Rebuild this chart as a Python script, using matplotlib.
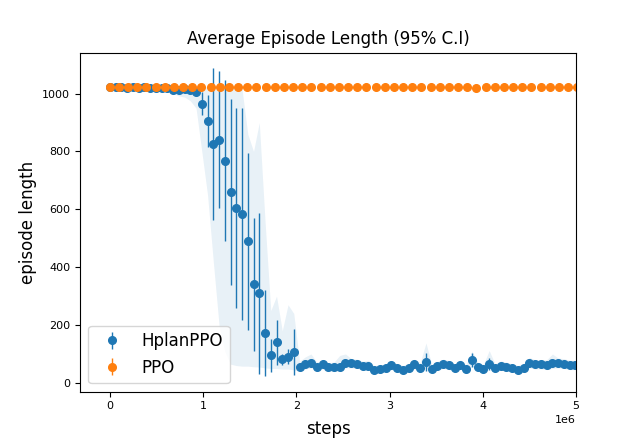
import numpy as np
import matplotlib
matplotlib.use("Agg")
import matplotlib.pyplot as plt

# logging interval of each run (env steps between evaluations)
hplan_interval = 61650
ppo_interval = 98304

hplan_mean = [
    1023, 1022, 1023, 1021, 1022, 1020, 1022, 1021, 1019, 1020, 1018,
    1011, 1014, 1016, 1011, 1006, 965, 905, 826, 840, 768, 660, 604,
    584, 490, 341, 310, 172, 95, 141, 81, 91, 107,
    54, 64, 70, 56, 64, 54, 54, 54, 68, 68, 66, 59, 60, 45, 47, 51,
    62, 51, 45, 53, 64, 51, 72, 48, 59, 66, 62, 51, 62, 48, 80, 56,
    48, 66, 51, 59, 56, 51, 45, 51, 70, 64, 64, 62, 68, 68, 66, 62, 62,
]
hplan_ci = [
    3, 3, 3, 3, 3, 3, 3, 3, 3, 3, 3,
    5, 6, 6, 8, 15, 40, 90, 262, 237, 278, 322, 346,
    366, 306, 229, 278, 148, 58, 78, 20, 25, 78,
    8, 10, 6, 6, 6, 6, 6, 6, 8, 6, 6, 6, 6, 6, 6, 6,
    6, 6, 6, 6, 6, 6, 30, 6, 6, 6, 6, 6, 6, 6, 24, 6,
    6, 20, 6, 6, 6, 6, 6, 6, 8, 6, 6, 6, 8, 6, 6, 6, 6,
]
hplan_band_lo = [
    1019, 1018, 1019, 1017, 1018, 1016, 1018, 1017, 1015, 1016, 1013,
    1000, 992, 988, 975, 950, 800, 650, 420, 200, 110, 65, 60,
    58, 58, 56, 55, 52, 50, 50, 48, 48, 45,
    40, 48, 52, 42, 48, 40, 40, 40, 52, 52, 50, 44, 45, 32, 34, 38,
    46, 38, 32, 40, 48, 38, 52, 35, 44, 50, 46, 38, 46, 35, 58, 42,
    35, 48, 38, 44, 42, 38, 32, 38, 52, 48, 48, 46, 50, 52, 50, 46, 46,
]
hplan_band_hi = [
    1024, 1024, 1024, 1024, 1024, 1024, 1024, 1024, 1024, 1024, 1024,
    1024, 1024, 1024, 1024, 1024, 1024, 1024, 1024, 1024, 1024, 1024, 1022,
    1015, 860, 800, 900, 560, 250, 300, 180, 270, 240,
    75, 90, 100, 72, 80, 70, 72, 95, 100, 84, 82, 75, 78, 60, 62, 66,
    78, 66, 60, 68, 82, 70, 138, 64, 75, 82, 78, 66, 80, 64, 110, 72,
    64, 112, 66, 76, 72, 66, 60, 68, 88, 80, 80, 80, 100, 86, 84, 78, 78,
]

ppo_mean = [
    1024, 1024, 1024, 1024, 1024, 1024, 1024, 1024, 1024, 1024,
    1024, 1024, 1024, 1024, 1024, 1024, 1024, 1024, 1024, 1024,
    1024, 1024, 1024, 1024, 1024, 1024, 1024, 1024, 1024, 1024,
    1024, 1024, 1024, 1024, 1024, 1024, 1024, 1024, 1024, 1024,
    1021, 1024, 1024, 1024, 1024, 1024, 1024, 1024, 1024, 1024,
    1024, 1024,
]
ppo_ci = [0] * len(ppo_mean)

hplan_steps = np.arange(len(hplan_mean)) * hplan_interval
ppo_steps = np.arange(len(ppo_mean)) * ppo_interval

fig, ax = plt.subplots(figsize=(6.4, 4.4), dpi=100)

ax.fill_between(hplan_steps, hplan_band_lo, hplan_band_hi, color="C0", alpha=0.1, linewidth=0)
ax.errorbar(hplan_steps, hplan_mean, yerr=hplan_ci, fmt="o", color="C0",
            elinewidth=1.0, markersize=5.5, label="HplanPPO")
ax.errorbar(ppo_steps, ppo_mean, yerr=ppo_ci, fmt="o", color="C1",
            elinewidth=1.0, markersize=5.5, label="PPO")

ax.set_xlim(-0.32e6, 5e6)
ax.set_ylim(-30, 1141)
ax.set_title("Average Episode Length (95% C.I)", fontsize=12)
ax.set_xlabel("steps", fontsize=12, labelpad=6)
ax.set_ylabel("episode length", fontsize=12)
ax.tick_params(labelsize=8)
ax.xaxis.get_offset_text().set_fontsize(8)
ax.legend(loc="lower left", fontsize=12)

fig.savefig("out.png")
